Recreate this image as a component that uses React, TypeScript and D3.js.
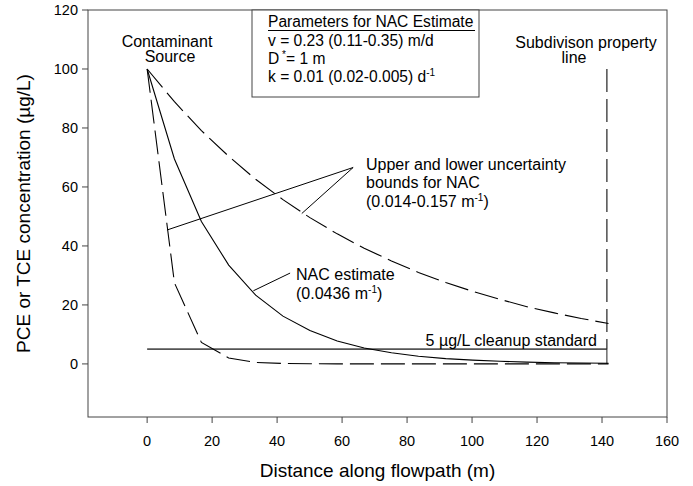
import React from 'react';
import * as d3 from 'd3';

// Data
const distance = [0, 8.4, 16.7, 25.1, 33.4, 41.8, 50.1, 58.5, 66.8, 75.2, 83.5, 91.9, 100.2, 108.6, 116.9, 125.3, 133.6, 142];
const nacEstimate = [100, 69.5, 48.3, 33.5, 23.3, 16.2, 11.3, 7.8, 5.4, 3.8, 2.6, 1.8, 1.3, 0.9, 0.6, 0.4, 0.3, 0.2];
const upperBound = [100, 88.9, 79.1, 70.4, 62.6, 55.7, 49.6, 44.1, 39.2, 34.9, 31.0, 27.6, 24.6, 21.9, 19.4, 17.3, 15.4, 13.7];
const lowerBound = [100, 27.5, 7.3, 2.0, 0.5, 0.15, 0.05, 0.02, 0, 0, 0, 0, 0, 0, 0, 0, 0, 0];
const xTicks = [0, 20, 40, 60, 80, 100, 120, 140, 160];
const yTicks = [0, 20, 40, 60, 80, 100, 120];
const cleanupStandard = 5;
const propertyLineX = 141.5;
const propertyLineTop = 100;
// annotation pointer points (data coords)
const boundsApex: [number, number] = [63.4, 66.6];
const boundsLowerTarget: [number, number] = [6.1, 45.4];
const boundsUpperTarget: [number, number] = [47.6, 51.0];
const nacPointerStart: [number, number] = [44.0, 30.8];
const nacPointerEnd: [number, number] = [32.7, 24.8];

const W = 693;
const H = 486;
const FONT = 'Liberation Sans, Arial, sans-serif';

export default function App() {
  const x = d3.scaleLinear().domain([-18.2, 160]).range([88, 667]);
  const y = d3.scaleLinear().domain([-18, 120]).range([417, 10]);
  const line = d3
    .line<number>()
    .x((_, i) => x(distance[i]))
    .y((d) => y(d));
  const seg = (a: [number, number], b: [number, number]) =>
    d3.line<[number, number]>().x((d) => x(d[0])).y((d) => y(d[1]))([a, b]) as string;

  const x0 = x.range()[0];
  const x1 = x.range()[1];
  const yTop = y.range()[1];
  const yBot = y.range()[0];
  const tickFs = 14.5;
  const fs = 16;
  const titleFs = 19;
  const dash = '24,7';
  const axisColor = '#444';

  return (
    <>
      <style>{`body{margin:0}`}</style>
      <svg width={W} height={H} style={{ display: 'block', background: '#fff' }} fontFamily={FONT}>
        {/* frame */}
        <rect x={x0} y={yTop} width={x1 - x0} height={yBot - yTop} fill="none" stroke={axisColor} strokeWidth={1} />
        {/* y ticks */}
        {yTicks.map((t) => (
          <g key={'y' + t}>
            <line x1={x0 - 6} x2={x0} y1={y(t)} y2={y(t)} stroke={axisColor} />
            <text x={x0 - 10} y={y(t)} dy="0.35em" textAnchor="end" fontSize={tickFs} fill="#000">
              {t}
            </text>
          </g>
        ))}
        {/* x ticks */}
        {xTicks.map((t) => (
          <g key={'x' + t}>
            <line x1={x(t)} x2={x(t)} y1={yBot} y2={yBot + 6} stroke={axisColor} />
            <text x={x(t)} y={yBot + 29} textAnchor="middle" fontSize={tickFs} fill="#000">
              {t}
            </text>
          </g>
        ))}
        {/* axis titles */}
        <text x={(x0 + x1) / 2} y={477} textAnchor="middle" fontSize={titleFs} fill="#000">
          Distance along flowpath (m)
        </text>
        <text
          transform={`translate(30,${(yTop + yBot) / 2}) rotate(-90)`}
          textAnchor="middle"
          fontSize={titleFs}
          fill="#000"
        >
          PCE or TCE concentration (µg/L)
        </text>

        {/* cleanup standard */}
        <path
          d={seg([0, cleanupStandard], [propertyLineX, cleanupStandard])}
          stroke="#555"
          strokeWidth={1.6}
          fill="none"
        />
        <path d={seg([propertyLineX, cleanupStandard], [propertyLineX, 0])} stroke="#222" strokeWidth={1} fill="none" />
        {/* property line */}
        <path
          d={seg([propertyLineX, propertyLineTop], [propertyLineX, cleanupStandard])}
          stroke="#222"
          strokeWidth={1.2}
          strokeDasharray="23,7"
          fill="none"
        />

        {/* curves */}
        <path d={line(upperBound) as string} fill="none" stroke="#000" strokeWidth={1.1} strokeDasharray={dash} />
        <path d={line(lowerBound) as string} fill="none" stroke="#000" strokeWidth={1.1} strokeDasharray={dash} />
        <path d={line(nacEstimate) as string} fill="none" stroke="#000" strokeWidth={1.1} />

        {/* pointers */}
        <path d={seg(boundsLowerTarget, boundsApex)} stroke="#000" strokeWidth={1} fill="none" />
        <path d={seg(boundsApex, boundsUpperTarget)} stroke="#000" strokeWidth={1} fill="none" />
        <path d={seg(nacPointerStart, nacPointerEnd)} stroke="#000" strokeWidth={1} fill="none" />

        {/* annotations */}
        <g fontSize={fs} fill="#000">
          <text x={167} y={47} textAnchor="middle">Contaminant</text>
          <text x={170} y={62} textAnchor="middle">Source</text>

          <text x={586} y={48} textAnchor="middle">Subdivison property</text>
          <text x={574} y={63} textAnchor="middle">line</text>

          <text x={366} y={170}>Upper and lower uncertainty</text>
          <text x={366} y={188}>bounds for NAC</text>
          <text x={366} y={207}>
            (0.014-0.157 m<tspan dy={-6} fontSize={10}>-1</tspan>
            <tspan dy={6}>)</tspan>
          </text>

          <text x={296} y={280}>NAC estimate</text>
          <text x={296} y={299}>
            (0.0436 m<tspan dy={-6} fontSize={10}>-1</tspan>
            <tspan dy={6}>)</tspan>
          </text>

          <text x={597} y={346} textAnchor="end">5 µg/L cleanup standard</text>
        </g>

        {/* parameter box */}
        <rect x={252} y={yTop} width={227} height={87} fill="#fff" stroke={axisColor} strokeWidth={1} />
        <g fontSize={15.6} fill="#000">
          <text x={268} y={27}>Parameters for NAC Estimate</text>
          <line x1={268} x2={475} y1={30.5} y2={30.5} stroke="#000" strokeWidth={1} />
          <text x={268} y={46}>v = 0.23 (0.11-0.35) m/d</text>
          <text x={268} y={64}>
            D<tspan dy={-6} fontSize={10}> *</tspan>
            <tspan dy={6}>= 1 m</tspan>
          </text>
          <text x={268} y={81.5}>
            k = 0.01 (0.02-0.005) d<tspan dy={-6} fontSize={10}>-1</tspan>
          </text>
        </g>
      </svg>
    </>
  );
}
